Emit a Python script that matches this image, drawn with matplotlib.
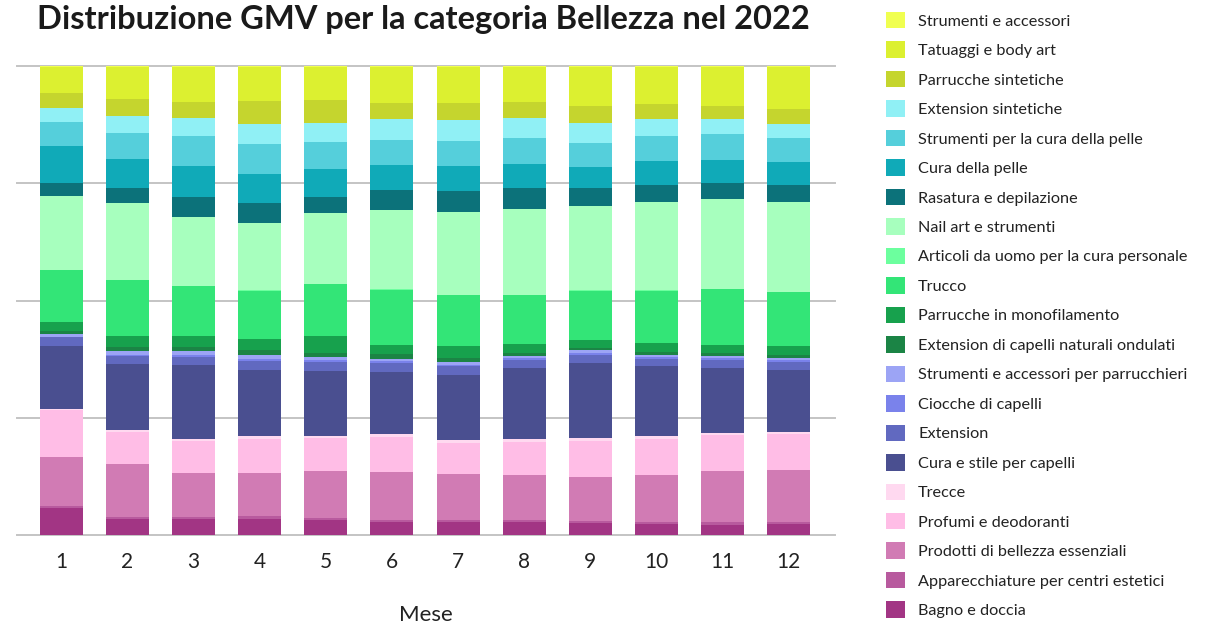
import numpy as np
import matplotlib
matplotlib.use("Agg")
import matplotlib.pyplot as plt
from matplotlib.patches import Patch

plt.rcParams['font.family'] = ['Lato', 'DejaVu Sans']

# =============================================================================
# DATA (share of GMV per month, %, stacked bottom -> top)
# =============================================================================
months = [1, 2, 3, 4, 5, 6, 7, 8, 9, 10, 11, 12]

categories = [
    "Bagno e doccia",
    "Apparecchiature per centri estetici",
    "Prodotti di bellezza essenziali",
    "Profumi e deodoranti",
    "Trecce",
    "Cura e stile per capelli",
    "Extension",
    "Ciocche di capelli",
    "Strumenti e accessori per parrucchieri",
    "Extension di capelli naturali ondulati",
    "Parrucche in monofilamento",
    "Trucco",
    "Articoli da uomo per la cura personale",
    "Nail art e strumenti",
    "Rasatura e depilazione",
    "Cura della pelle",
    "Strumenti per la cura della pelle",
    "Extension sintetiche",
    "Parrucche sintetiche",
    "Tatuaggi e body art",
    "Strumenti e accessori",
]

bagno = [5.8, 3.5, 3.5, 3.5, 3.2, 2.8, 2.8, 2.8, 2.6, 2.3, 2.1, 2.3]
apparecchiature = [0.4, 0.4, 0.4, 0.6, 0.4, 0.4, 0.4, 0.4, 0.4, 0.4, 0.6, 0.4]
prodotti = [10.4, 11.3, 9.4, 9.2, 10.0, 10.2, 9.8, 9.6, 9.4, 10.0, 10.9, 11.1]
profumi = [10.0, 6.8, 6.8, 7.2, 7.2, 7.5, 6.6, 7.0, 7.7, 7.7, 7.7, 7.7]
trecce = [0.4, 0.4, 0.4, 0.6, 0.4, 0.6, 0.6, 0.6, 0.6, 0.6, 0.4, 0.4]
cura_capelli = [13.4, 14.1, 15.8, 14.3, 13.9, 13.2, 13.9, 15.1, 16.0, 14.9, 13.9, 13.2]
extension = [1.8, 1.7, 1.7, 1.9, 1.9, 1.9, 1.9, 1.7, 1.7, 1.5, 1.7, 1.7]
ciocche = [0.2, 0.4, 0.6, 0.4, 0.4, 0.4, 0.4, 0.4, 0.4, 0.6, 0.4, 0.6]
strum_parrucchieri = [0.6, 0.7, 0.7, 0.9, 0.6, 0.6, 0.6, 0.6, 0.6, 0.4, 0.6, 0.4]
ext_naturali = [0.6, 0.9, 0.9, 0.9, 0.9, 0.9, 0.9, 0.6, 0.6, 0.6, 0.6, 0.6]
parr_mono = [1.9, 2.4, 2.4, 2.4, 3.6, 2.1, 2.4, 1.9, 1.7, 1.9, 1.7, 1.9]
trucco = [11.1, 11.9, 10.7, 10.4, 11.1, 11.7, 10.9, 10.4, 10.4, 11.1, 11.9, 11.5]
uomo = [0.1, 0.1, 0.1, 0.1, 0.1, 0.1, 0.1, 0.1, 0.1, 0.1, 0.1, 0.1]
nail_art = [15.8, 16.4, 14.7, 14.3, 15.1, 16.8, 17.7, 18.3, 18.1, 18.8, 19.2, 19.2]
rasatura = [2.8, 3.2, 4.3, 4.3, 3.4, 4.3, 4.5, 4.5, 3.8, 3.6, 3.4, 3.6]
cura_pelle = [7.9, 6.2, 6.6, 6.2, 6.0, 5.3, 5.3, 5.1, 4.5, 5.1, 4.9, 4.9]
strum_pelle = [5.1, 5.5, 6.4, 6.6, 5.8, 5.5, 5.3, 5.5, 5.1, 5.3, 5.5, 5.1]
ext_sintetiche = [3.0, 3.8, 3.8, 4.1, 4.1, 4.5, 4.5, 4.3, 4.3, 3.8, 3.2, 3.0]
parr_sintetiche = [3.2, 3.6, 3.6, 5.1, 4.9, 3.4, 3.6, 3.4, 3.6, 3.2, 2.8, 3.2]
tatuaggi = [5.4, 6.7, 7.3, 7.1, 6.9, 7.5, 7.7, 7.3, 8.2, 7.7, 8.2, 8.8]
strum_accessori = [0.3, 0.3, 0.3, 0.3, 0.3, 0.3, 0.3, 0.3, 0.3, 0.3, 0.3, 0.3]

series = [bagno, apparecchiature, prodotti, profumi, trecce, cura_capelli,
          extension, ciocche, strum_parrucchieri, ext_naturali, parr_mono,
          trucco, uomo, nail_art, rasatura, cura_pelle, strum_pelle,
          ext_sintetiche, parr_sintetiche, tatuaggi, strum_accessori]

colors = [
    "#a23584", "#b85a9e", "#d17bb4", "#ffbde6", "#ffd9f0", "#4a4f90",
    "#6169c0", "#7a82eb", "#9ca4f5", "#1b8445", "#17a14d", "#33e577",
    "#6cff9e", "#a7ffbe", "#0c727a", "#10aab8", "#55cfdb", "#90f0f5",
    "#c5d52e", "#dcf030", "#f0ff50",
]

# =============================================================================
# PLOT
# =============================================================================
values = np.array(series, dtype=float)
share = values / values.sum(axis=0) * 100

fig = plt.figure(figsize=(12.1, 6.24), dpi=100)
ax = fig.add_axes([17 / 1210, 89 / 624, 818 / 1210, 469 / 624])

bottom = np.zeros(len(months))
for name, vals, col in zip(categories, share, colors):
    ax.bar(months, vals, bottom=bottom, width=0.65, color=col, label=name,
           zorder=2, linewidth=0)
    bottom += vals

ax.set_xlim(0.33, 12.7)
ax.set_ylim(0, 100)
for y in [0, 25, 50, 75, 100]:
    ax.axhline(y, color="#c4c4c4", linewidth=1.4, zorder=1, clip_on=False)

for s in ax.spines.values():
    s.set_visible(False)
ax.set_yticks([])
ax.set_xticks(months)
ax.set_xticklabels([str(m) for m in months], fontsize=15, color="#222222")
ax.tick_params(axis="x", length=0, pad=12)
ax.set_xlabel("Mese", fontsize=16, color="#222222", labelpad=24)

fig.text(37 / 1210, 1 - 19 / 624, "Distribuzione GMV per la categoria Bellezza nel 2022",
         fontsize=23.5, fontweight="bold", color="#1a1a1a", va="center", ha="left")

handles = [Patch(facecolor=c, edgecolor="none", label=n)
           for n, c in zip(categories, colors)][::-1]
fig.legend(handles=handles, loc="upper left", bbox_to_anchor=(886 / 1210, 1 - 12 / 624),
           frameon=False, fontsize=11.7, handlelength=1.18, handleheight=1.18,
           labelspacing=0.785, handletextpad=0.8, borderpad=0, borderaxespad=0,
           labelcolor="#222222")

fig.savefig("out.png", dpi=100)
